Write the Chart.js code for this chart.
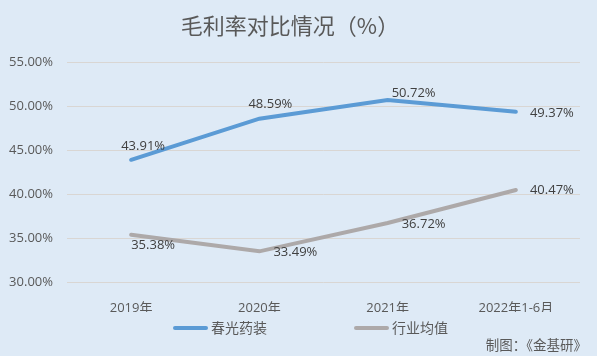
<!DOCTYPE html>
<html><head><meta charset="utf-8">
<script src="https://cdn.jsdelivr.net/npm/chart.js@4/dist/chart.umd.min.js"></script>
<style>html,body{margin:0;padding:0;background:#DEEAF6;}#wrap{width:597px;height:356px;}</style>
</head><body><div id="wrap"><canvas id="c" width="597" height="356"></canvas></div>
<script>
const categories = ['2019年','2020年','2021年','2022年1-6月'];
const seriesNames = ['春光药装','行业均值'];
const chunguang = [43.91, 48.59, 50.72, 49.37];
const industry = [35.38, 33.49, 36.72, 40.47];
const yTicks = [30, 35, 40, 45, 50, 55];
const titleText = '毛利率对比情况（%）';
const sourceText = '制图：《金基研》';

// label offsets (dx, dy) relative to each point
const labelOffsets = [
  [[12,-14],[11,-14],[26,-7],[36,1]],
  [[22,11],[36,1],[36,1],[36,0]]
];
// legend item positions (line start x), row y
const legendX = [173, 354];
const legendY = 328;

const CJK = "'Noto Sans CJK SC', sans-serif";
const NUM = "'Open Sans', 'Noto Sans CJK SC', sans-serif";

const drawPlugin = {
  id: 'draw',
  beforeDraw(chart) {
    const ctx = chart.ctx;
    ctx.save();
    ctx.fillStyle = '#DEEAF6';
    ctx.fillRect(0, 0, chart.width, chart.height);
    ctx.restore();
  },
  afterDatasetsDraw(chart) {
    const ctx = chart.ctx;
    ctx.save();
    ctx.font = '13px ' + NUM;
    ctx.fillStyle = '#404040';
    ctx.textAlign = 'center';
    ctx.textBaseline = 'middle';
    chart.data.datasets.forEach((ds, di) => {
      const meta = chart.getDatasetMeta(di);
      meta.data.forEach((pt, i) => {
        const o = labelOffsets[di][i];
        ctx.fillText(ds.data[i].toFixed(2) + '%', pt.x + o[0], pt.y + o[1]);
      });
    });
    // legend
    chart.data.datasets.forEach((ds, di) => {
      const x = legendX[di];
      ctx.strokeStyle = ds.borderColor;
      ctx.lineWidth = 4;
      ctx.lineCap = 'round';
      ctx.beginPath();
      ctx.moveTo(x + 2, legendY);
      ctx.lineTo(x + 33, legendY);
      ctx.stroke();
      ctx.font = '14px ' + CJK;
      ctx.fillStyle = '#595959';
      ctx.textAlign = 'left';
      ctx.fillText(ds.label, x + 38, legendY);
    });
    ctx.font = '13.5px ' + CJK;
    ctx.fillStyle = '#595959';
    ctx.textAlign = 'right';
    ctx.fillText(sourceText, 587, 345);
    ctx.restore();
  }
};

new Chart(document.getElementById('c'), {
  type: 'line',
  data: {
    labels: categories,
    datasets: [
      { label: seriesNames[0], data: chunguang, borderColor: '#5B9BD5', backgroundColor: '#5B9BD5', borderWidth: 4, pointRadius: 0, tension: 0, borderCapStyle: 'round' },
      { label: seriesNames[1], data: industry, borderColor: '#ADA9A9', backgroundColor: '#ADA9A9', borderWidth: 4, pointRadius: 0, tension: 0, borderCapStyle: 'round' }
    ]
  },
  options: {
    responsive: false,
    animation: false,
    devicePixelRatio: 1,
    layout: { padding: { left: 0, right: 17, top: 0, bottom: 44 } },
    plugins: {
      title: { display: true, text: titleText, color: '#595959', font: { family: CJK, size: 22, weight: 'normal' }, padding: { top: 12, bottom: 24 } },
      legend: { display: false },
      tooltip: { enabled: false }
    },
    scales: {
      x: {
        offset: true,
        grid: { display: false },
        border: { display: false },
        ticks: { color: '#595959', font: { family: NUM, size: 13 }, padding: 10, maxRotation: 0 },
        afterFit(axis) { axis.height = 30; }
      },
      y: {
        min: 30, max: 55,
        afterBuildTicks(axis) { axis.ticks = yTicks.map(v => ({ value: v })); },
        grid: { color: '#D9D6D3', lineWidth: 1, drawTicks: false },
        border: { display: false },
        ticks: { color: '#595959', font: { family: NUM, size: 13 }, padding: 14, callback: v => v.toFixed(2) + '%' },
        afterFit(axis) { axis.width = 67; }
      }
    }
  },
  plugins: [drawPlugin]
});
</script></body></html>
